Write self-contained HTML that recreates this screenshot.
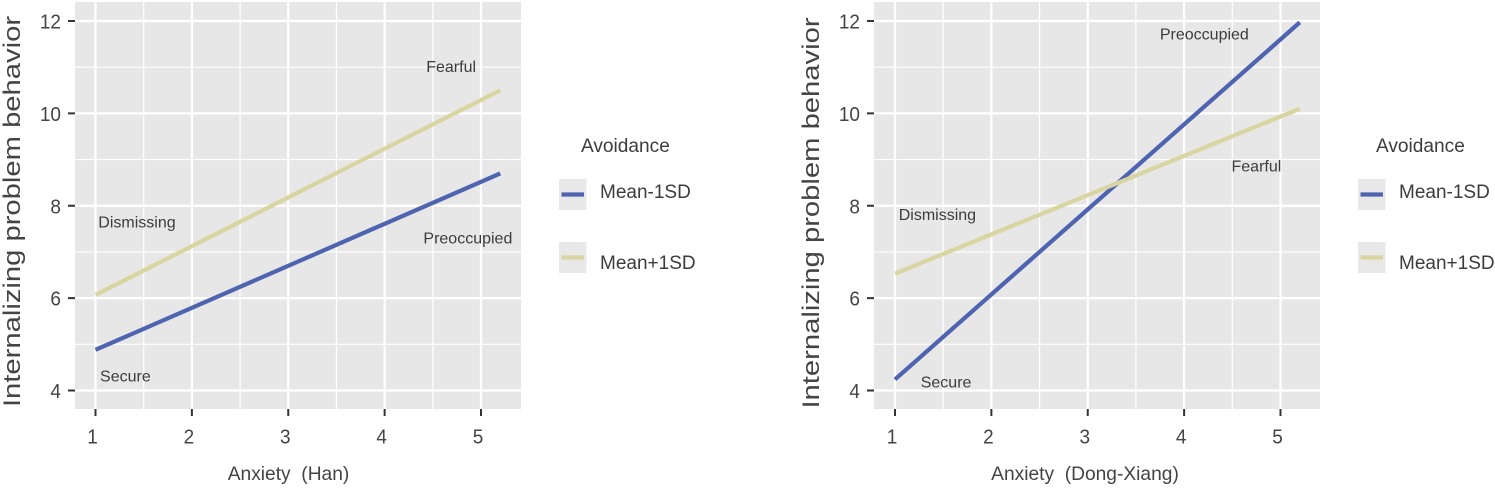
<!DOCTYPE html>
<html>
<head>
<meta charset="utf-8">
<style>
html,body{margin:0;padding:0;background:#fff;}
svg{display:block;}
text{font-family:"Liberation Sans",sans-serif;}
</style>
</head>
<body>
<svg id="chart" width="1495" height="490" viewBox="0 0 1495 490" xmlns="http://www.w3.org/2000/svg"></svg>
<script>
const xTicks = [1, 2, 3, 4, 5];
const yTicks = [4, 6, 8, 10, 12];
const seriesX = [1, 5.2];
const seriesNames = ['Mean-1SD', 'Mean+1SD'];
const hanLow = [4.88, 8.7];
const hanHigh = [6.07, 10.5];
const dongLow = [4.24, 11.97];
const dongHigh = [6.53, 10.1];
const hanQuadrants = ['Secure', 'Dismissing', 'Preoccupied', 'Fearful'];
const dongQuadrants = ['Secure', 'Dismissing', 'Preoccupied', 'Fearful'];
const hanQuadrantX = [1.31, 1.43, 4.864, 4.69];
const hanQuadrantY = [4.3, 7.64, 7.29, 11.0];
const dongQuadrantX = [1.53, 1.44, 4.21, 4.75];
const dongQuadrantY = [4.17, 7.80, 11.71, 8.85];
const colors = ['#4e64b0', '#d8d5a0'];

const svg = document.getElementById('chart');
const NS = 'http://www.w3.org/2000/svg';
function add(parent, tag, attrs, text) {
  const el = document.createElementNS(NS, tag);
  for (const k in attrs) el.setAttribute(k, attrs[k]);
  if (text !== undefined) el.textContent = text;
  parent.appendChild(el);
  return el;
}
function drawPanel(cfg) {
  const g = add(svg, 'g', {});
  
  
  const sx = v => cfg.x1 + (v - 1) * (cfg.x5 - cfg.x1) / 4;
  const sy = v => 390.5 + (v - 4) * (21 - 390.5) / 8;
  const bg = add(g, 'rect', {x: cfg.left, y: 2, width: cfg.right - cfg.left, height: 407, fill: '#e7e7e7'});
  
  
  xTicks.slice(0, -1).forEach(t => {
    const m = add(g, 'line', {x1: sx(t + 0.5), x2: sx(t + 0.5), y1: 2, y2: 409, stroke: '#fff', 'stroke-width': 1.2});
    
    
  });
  yTicks.slice(0, -1).forEach(t => {
    const m = add(g, 'line', {y1: sy(t + 1), y2: sy(t + 1), x1: cfg.left, x2: cfg.right, stroke: '#fff', 'stroke-width': 1.2});
    
    
  });
  xTicks.forEach(t => {
    const m = add(g, 'line', {x1: sx(t), x2: sx(t), y1: 2, y2: 409, stroke: '#fff', 'stroke-width': 2.2});
    
    
    const k = add(g, 'line', {x1: sx(t), x2: sx(t), y1: 409, y2: 416, stroke: '#333', 'stroke-width': 2});
    
    
    const l = add(g, 'text', {'font-size': 20, fill: '#444', 'text-anchor': 'middle', transform: 'translate(' + (sx(t) - 3) + ',443.5) scale(0.95,1)'}, String(t));
    
    
  });
  yTicks.forEach(t => {
    const m = add(g, 'line', {y1: sy(t), y2: sy(t), x1: cfg.left, x2: cfg.right, stroke: '#fff', 'stroke-width': 2.2});
    
    
    const k = add(g, 'line', {y1: sy(t), y2: sy(t), x1: cfg.left - 7, x2: cfg.left, stroke: '#333', 'stroke-width': 2});
    
    
    const l = add(g, 'text', {'font-size': 20, fill: '#444', 'text-anchor': 'end', transform: 'translate(' + (cfg.left - 14) + ',' + (sy(t) + 7.5) + ') scale(0.95,1)'}, String(t));
    
    
  });
  [cfg.low, cfg.high].forEach((vals, i) => {
    const p = add(g, 'line', {x1: sx(seriesX[0]), y1: sy(vals[0]), x2: sx(seriesX[1]), y2: sy(vals[1]), stroke: colors[i], 'stroke-width': 4.2});
    
    
  });
  cfg.quad.forEach((q, i) => {
    const t = add(g, 'text', {x: sx(cfg.qx[i]), y: sy(cfg.qy[i]) + 5, 'font-size': 16, fill: '#3c3c3c', 'text-anchor': 'middle'}, q);
    
    
  });
  const yt = add(g, 'text', {'font-size': 24, fill: '#444', 'text-anchor': 'middle', transform: 'translate(' + cfg.yTitleX + ',' + cfg.yTitleY + ') rotate(-90) scale(1.217,1)'}, 'Internalizing problem behavior');
  
  
  const xt = add(g, 'text', {x: cfg.xTitleX, y: 480, 'font-size': 19.2, fill: '#444', 'text-anchor': 'middle', style: 'white-space:pre'}, cfg.xTitle);
  
  
  const lt = add(g, 'text', {x: cfg.legendTitleX, y: 152, 'font-size': 19.1, fill: '#3c3c3c'}, 'Avoidance');
  
  
  seriesNames.forEach((n, i) => {
    const top = i === 0 ? 179 : 242;
    const e = add(g, 'g', {});
    
    
    add(e, 'rect', {x: cfg.legendX, y: top, width: 27.5, height: 31, fill: '#e8e8e8'});
    add(e, 'line', {x1: cfg.legendX + 2.5, x2: cfg.legendX + 25, y1: top + 15.5, y2: top + 15.5, stroke: colors[i], 'stroke-width': 4.2});
    add(e, 'text', {x: cfg.legendX + 41, y: i === 0 ? 198 : 269, 'font-size': 19, fill: '#3c3c3c'}, n);
  });
}
drawPanel({name: 'han-panel', left: 75, right: 521, x1: 95.5, x5: 481, low: hanLow, high: hanHigh, quad: hanQuadrants, qx: hanQuadrantX, qy: hanQuadrantY, yTitleX: 20, yTitleY: 211.5, xTitleX: 288.5, xTitle: 'Anxiety  (Han)', legendX: 559, legendTitleX: 581});
drawPanel({name: 'dong-xiang-panel', left: 874, right: 1320, x1: 895, x5: 1280.5, low: dongLow, high: dongHigh, quad: dongQuadrants, qx: dongQuadrantX, qy: dongQuadrantY, yTitleX: 819, yTitleY: 213, xTitleX: 1085, xTitle: 'Anxiety  (Dong-Xiang)', legendX: 1358, legendTitleX: 1376});
</script>
</body>
</html>
